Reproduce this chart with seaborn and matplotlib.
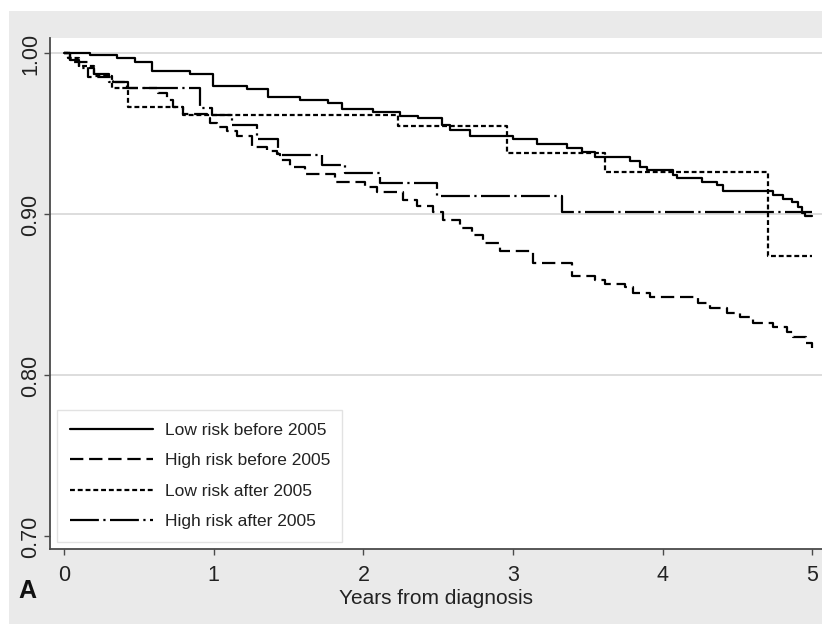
import numpy as np
import pandas as pd
import matplotlib
matplotlib.use("Agg")
import matplotlib.pyplot as plt
import seaborn as sns
from matplotlib.patches import Rectangle

# Kaplan-Meier estimates (years, survival)
low_before_t = [0, 0.174, 0.354, 0.474, 0.588, 0.842, 0.995, 1.222, 1.363, 1.576, 1.764,
                1.857, 2.064, 2.244, 2.365, 2.525, 2.579, 2.712, 3.0, 3.16, 3.36, 3.46,
                3.547, 3.78, 3.848, 3.895, 4.068, 4.095, 4.262, 4.362, 4.402, 4.736,
                4.803, 4.863, 4.903, 4.93, 4.95, 5.0]
low_before_s = [1.0, 0.999, 0.997, 0.9945, 0.989, 0.987, 0.980, 0.978, 0.973, 0.971, 0.969,
                0.9655, 0.9637, 0.9614, 0.960, 0.9556, 0.9525, 0.9488, 0.947, 0.9438, 0.9413, 0.939,
                0.9357, 0.9333, 0.9296, 0.9276, 0.9245, 0.9226, 0.9202, 0.918, 0.9146, 0.912,
                0.9096, 0.908, 0.9047, 0.901, 0.899, 0.899]

high_before_t = [0, 0.04, 0.16, 0.327, 0.421, 0.628, 0.688, 0.728, 0.795, 0.955, 0.975,
                 1.022, 1.089, 1.156, 1.256, 1.356, 1.423, 1.443, 1.51, 1.61, 1.81, 2.01,
                 2.091, 2.265, 2.358, 2.465, 2.532, 2.645, 2.725, 2.799, 2.912, 3.133,
                 3.393, 3.547, 3.614, 3.748, 3.801, 3.915, 4.235, 4.315, 4.429, 4.516,
                 4.603, 4.736, 4.830, 4.870, 4.957, 5.0]
high_before_s = [1.0, 0.995, 0.9855, 0.982, 0.9785, 0.9755, 0.971, 0.967, 0.9624, 0.960, 0.957,
                 0.9545, 0.952, 0.9488, 0.942, 0.9395, 0.9376, 0.934, 0.9296, 0.925, 0.920, 0.917,
                 0.914, 0.909, 0.905, 0.9015, 0.8966, 0.8916, 0.887, 0.882, 0.877, 0.870,
                 0.862, 0.859, 0.857, 0.855, 0.851, 0.849, 0.845, 0.842, 0.839, 0.836,
                 0.8326, 0.830, 0.827, 0.824, 0.820, 0.817]

low_after_t = [0, 0.03, 0.1, 0.2, 0.32, 0.43, 0.795, 2.23, 2.96, 3.614, 4.703, 5.0]
low_after_s = [1.0, 0.997, 0.992, 0.986, 0.9785, 0.967, 0.962, 0.955, 0.938, 0.9264, 0.874, 0.874]

high_after_t = [0, 0.04, 0.1, 0.2, 0.3, 0.43, 0.908, 0.989, 1.122, 1.289, 1.43, 1.723,
                1.877, 2.11, 2.49, 3.327, 5.0]
high_after_s = [1.0, 0.996, 0.991, 0.987, 0.982, 0.9785, 0.966, 0.962, 0.9556, 0.947, 0.937, 0.931,
                0.9258, 0.9195, 0.9115, 0.9016, 0.9016]

labels = ["Low risk before 2005", "High risk before 2005",
          "Low risk after 2005", "High risk after 2005"]
x_ticks = [0, 1, 2, 3, 4, 5]
y_ticks = [0.70, 0.80, 0.90, 1.00]
y_ticklabels = ["0.70", "0.80", "0.90", "1.00"]

sns.set_style("white")
plt.rcParams['font.family'] = ['Liberation Sans', 'DejaVu Sans']

fig = plt.figure(figsize=(8.22, 6.24), dpi=100)
# stata-like grey surround, kept behind the axes
fig.patches.append(Rectangle((9 / 822, 0), 1, 1 - 11 / 624, transform=fig.transFigure,
                             facecolor='#EAEAEA', edgecolor='none', zorder=-5))
ax = fig.add_axes([50 / 822, 1 - 549 / 624, 772 / 822, 511 / 624])
ax.set_zorder(1)
ax.set_facecolor('white')

series = [(low_before_t, low_before_s, '-'),
          (high_before_t, high_before_s, (0, (6, 2.6))),
          (low_after_t, low_after_s, (0, (2.2, 1.3))),
          (high_after_t, high_after_s, (0, (13, 2, 1, 2)))]

for (t, s, ls), lab in zip(series, labels):
    df = pd.DataFrame({'t': t, 's': s})
    sns.lineplot(data=df, x='t', y='s', ax=ax, color='black', linewidth=1.6,
                 linestyle=ls, drawstyle='steps-post', label=lab, zorder=3)

ax.set_xlim(-0.0935, 5.0635)
ax.set_ylim(0.6922, 1.0096)
ax.set_xticks(x_ticks)
ax.set_yticks(y_ticks)
ax.set_yticklabels(y_ticklabels, rotation=90, va='center')

ax.grid(axis='y', color='#DADADA', linewidth=1.3, zorder=1)
ax.get_ygridlines()[0].set_visible(False)
ax.set_axisbelow(True)

for side in ['top', 'right']:
    ax.spines[side].set_visible(False)
for side in ['left', 'bottom']:
    ax.spines[side].set_color('#4A4A4A')
    ax.spines[side].set_linewidth(1.3)

ax.tick_params(axis='y', direction='out', length=4.5, width=1, color='#4A4A4A',
               labelsize=15.5, labelcolor='#222222', pad=2, left=True)
ax.tick_params(axis='x', direction='out', length=4.5, width=1, color='#4A4A4A',
               labelsize=15.5, labelcolor='#222222', pad=7, bottom=True)

ax.set_xlabel("Years from diagnosis", fontsize=15, color='#222222', labelpad=2)
ax.set_ylabel("")

handles, _ = ax.get_legend_handles_labels()
leg = ax.legend(handles, labels, loc='lower left', fontsize=12.5, frameon=True,
                fancybox=False, framealpha=1, edgecolor='#E2E2E2', facecolor='white',
                handlelength=4.77, handletextpad=0.69, borderpad=0.72,
                labelspacing=0.88, borderaxespad=0.42)
for txt in leg.get_texts():
    txt.set_color('#222222')

fig.text(27 / 822, 1 - 591 / 624, "A", fontsize=18, fontweight='bold',
         ha='center', va='center', color='#111111', zorder=2)

fig.savefig("out.png", dpi=100)
